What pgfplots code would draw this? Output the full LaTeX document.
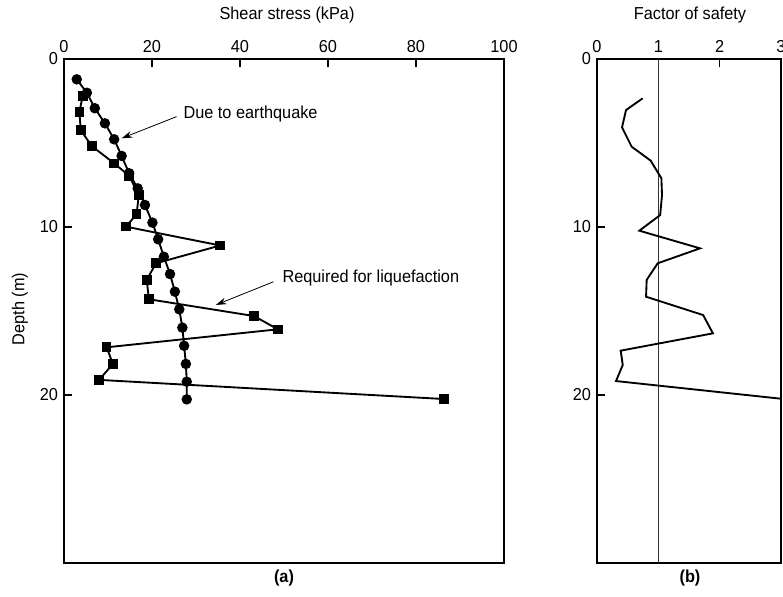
\documentclass[border=0pt]{standalone}
\usepackage{pgfplots}
\pgfplotsset{compat=1.18}
\usetikzlibrary{arrows.meta}
\usepackage{fontspec}
\setmainfont[FakeStretch=0.94]{Liberation Sans}

\pgfplotstableread{
kpa depth
2.9 1.21
5.2 2.01
7.0 2.93
9.3 3.83
11.4 4.78
13.1 5.77
14.8 6.80
16.75 7.70
18.4 8.69
20.1 9.74
21.4 10.73
22.7 11.77
24.1 12.80
25.2 13.85
26.2 14.90
26.9 15.99
27.3 17.07
27.7 18.15
27.9 19.21
27.9 20.26
}\quake

\pgfplotstableread{
kpa depth
4.25 2.2
3.5 3.14
3.8 4.23
6.3 5.18
11.4 6.21
14.8 6.95
17.0 8.1
16.5 9.23
14.1 9.98
35.5 11.1
20.9 12.16
18.8 13.15
19.3 14.3
43.2 15.3
48.6 16.09
9.7 17.16
11.1 18.15
8.0 19.1
86.4 20.24
}\required

\pgfplotstableread{
fs depth
0.745 2.34
0.473 3.04
0.408 4.07
0.565 5.22
0.875 6.05
1.05 7.10
1.06 8.1
1.03 9.29
0.69 10.22
1.68 11.27
0.99 12.16
0.81 13.15
0.80 14.15
1.73 15.24
1.89 16.33
0.386 17.36
0.42 18.21
0.31 19.17
3.10 20.26
}\safety

\begin{document}
\fontsize{13pt}{15pt}\selectfont
\begin{tikzpicture}
\path[use as bounding box] (0pt,0pt) rectangle (587.25pt,447.75pt);
\pgfplotsset{
  myaxis/.style={
    scale only axis, height=378pt,
    ymin=0, ymax=30, y dir=reverse,
    ytick={0,10,20},
    xtick pos=right, xticklabel pos=right, ytick pos=left,
    tick align=inside, major tick length=6pt,
    axis line style={line width=0.9pt},
    every tick/.style={black, line width=0.8pt},
    tick label style={font=\fontsize{13pt}{15pt}\selectfont},
    /pgf/number format/assume math mode=true,
  }
}
\begin{axis}[myaxis,
  at={(48pt,25.5pt)}, anchor=south west, width=330pt,
  xmin=0, xmax=100, xtick={0,20,40,60,80,100},
]
\addplot[black, line width=1.4pt, mark=*, mark size=3.2pt] table[x=kpa,y=depth] {\quake};
\addplot[black, line width=1.4pt, mark=square*, mark size=2.9pt, mark options={solid}] table[x=kpa,y=depth] {\required};
\draw[-{Stealth[length=8pt,width=5pt]}, line width=0.6pt] (axis cs:25.6,3.43) -- (axis cs:13.1,4.72);
\node[anchor=west, inner sep=1pt] at (axis cs:26.8,3.25) {Due to earthquake};
\draw[-{Stealth[length=8pt,width=5pt]}, line width=0.6pt] (axis cs:47.6,13.26) -- (axis cs:34.5,14.64);
\node[anchor=west, inner sep=1pt] at (axis cs:49.3,13.05) {Required for liquefaction};
\end{axis}

\begin{axis}[myaxis,
  at={(447.75pt,25.5pt)}, anchor=south west, width=138pt,
  xmin=0, xmax=3, xtick={0,1,2,3},
]
\addplot[black!80, line width=0.5pt] coordinates {(1,0) (1,30)};
\addplot[black, line width=1.4pt] table[x=fs,y=depth] {\safety};
\end{axis}

\node at (215.25pt,436.5pt) {Shear stress (kPa)};
\node at (517.5pt,436.5pt) {Factor of safety};
\node[rotate=90] at (15pt,216pt) {Depth (m)};
\node at (213pt,14.25pt) {\bfseries (a)};
\node at (517.5pt,14.25pt) {\bfseries (b)};
\end{tikzpicture}
\end{document}
